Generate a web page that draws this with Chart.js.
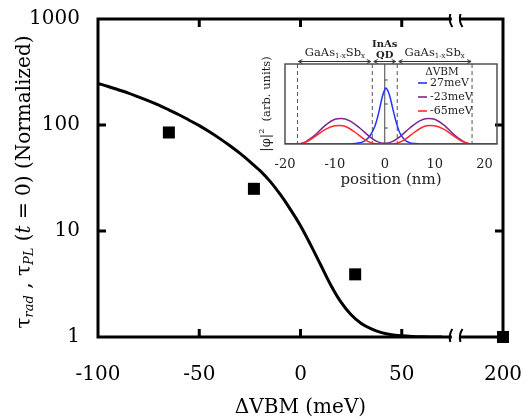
<!DOCTYPE html>
<html lang="en">
<head>
<meta charset="UTF-8">
<title>Radiative lifetime vs ΔVBM</title>
<style>
  * {box-sizing:border-box;margin:0;padding:0;}
  body {background:#fff;width:525px;height:420px;overflow:hidden;}
  .wrap {position:relative;width:525px;height:420px;}
  #mainChart {position:absolute;left:0;top:0;}
  #insetChart {position:absolute;left:250px;top:34px;}
</style>
</head>
<body>
<div class="wrap">
  <canvas id="mainChart" width="525" height="420"></canvas>
  <canvas id="insetChart" width="262" height="160"></canvas>
</div>
<script src="https://cdn.jsdelivr.net/npm/chart.js@4.4.1/dist/chart.umd.min.js"></script>
<script>
// main panel: calculated curve + measured points
const curveMeV = [-100, -95, -90, -85, -80, -75, -70, -65, -60, -55, -50, -45, -40, -35, -30, -25, -20, -15, -10, -5, 0, 5, 10, 15, 20, 25, 30, 35, 40, 45, 50, 55, 60, 70];
const curveTau = [247, 231, 215, 200, 184, 169, 154, 139, 125, 111, 98.6, 86.3, 74.8, 64.0, 54.2, 45.1, 37.1, 29.4, 22.1, 16.0, 11.2, 7.40, 4.78, 3.08, 2.13, 1.62, 1.34, 1.19, 1.10, 1.05, 1.026, 1.012, 1.005, 1.0];
const markMeV = [-65, -23, 27, 200];
const markTau = [85, 25, 3.9, 1];
const xTickMeV = [-100, -50, 0, 50, 200];
const yTickTau = [1, 10, 100, 1000];

// inset: |phi|^2 vs position
const pos27 = [-22.5, -7, -6, -5, -4, -3, -2, -1.5, -1, -0.5, 0, 0.2, 0.5, 1, 1.5, 2, 2.5, 3, 4, 5, 6, 7, 22.5];
const psi27 = [0, 0, 0.005, 0.015, 0.04, 0.1, 0.22, 0.32, 0.45, 0.59, 0.68, 0.7, 0.68, 0.6, 0.47, 0.34, 0.23, 0.14, 0.05, 0.016, 0.005, 0, 0];
const posM23 = [-22.5, -17.5, -16, -14, -12, -10, -8.7, -7, -5, -3, -1.5, 0, 1.5, 3, 5, 7, 8.7, 10, 12, 14, 16, 17.5, 22.5];
const psiM23 = [0, 0, 0.023, 0.11, 0.23, 0.31, 0.32, 0.29, 0.2, 0.09, 0.03, 0.01, 0.03, 0.09, 0.2, 0.29, 0.32, 0.31, 0.23, 0.11, 0.023, 0, 0];
const posM65 = [-22.5, -17.5, -16, -14, -12, -10, -9, -8, -6, -4, -2.5, -1.5, 0, 1.5, 2.5, 4, 6, 8, 9, 10, 12, 14, 16, 17.5, 22.5];
const psiM65 = [0, 0, 0.02, 0.093, 0.18, 0.227, 0.23, 0.222, 0.15, 0.055, 0.01, 0, 0, 0, 0.01, 0.055, 0.15, 0.222, 0.23, 0.227, 0.18, 0.093, 0.02, 0, 0];
const insetXTicks = [-20, -10, 0, 10, 20];
const wellEdges = [-17.5, -2.5, 2.5, 17.5];
const legendLabels = ['27meV', '-23meV', '-65meV'];
const legendColors = ['#2434ff', '#7a2a8f', '#ff2b2b'];

const SERIF = '"DejaVu Serif", serif';
const breakFrom = 74, breakTo = 79;   // axis units where the x axis is cut
function toAxis(v) { return v > 100 ? v - 100 : v; }
function fromAxis(a) { return a > breakFrom ? a + 100 : a; }
function zip(xs, ys) { return xs.map((x, i) => ({x: x, y: ys[i]})); }
function noPad(s) { s.paddingLeft = 0; s.paddingRight = 0; s.paddingTop = 0; s.paddingBottom = 0; }

const frame = {
  id: 'frame',
  beforeDatasetsDraw(chart) {
    const {ctx, chartArea: a, scales: {x, y}} = chart;
    const gL = x.getPixelForValue(breakFrom), gR = x.getPixelForValue(breakTo);
    ctx.save();
    ctx.strokeStyle = '#000';
    ctx.lineWidth = 3;
    ctx.lineCap = 'square';
    ctx.beginPath();
    ctx.moveTo(a.left, a.top); ctx.lineTo(a.left, a.bottom);
    ctx.moveTo(a.right, a.top); ctx.lineTo(a.right, a.bottom);
    [a.top, a.bottom].forEach(yy => {
      ctx.moveTo(a.left, yy); ctx.lineTo(gL, yy);
      ctx.moveTo(gR, yy); ctx.lineTo(a.right, yy);
    });
    ctx.stroke();
    // inward ticks
    ctx.lineCap = 'butt';
    ctx.beginPath();
    x.ticks.forEach(t => {
      const px = x.getPixelForValue(t.value);
      if (px <= a.left + 2 || px >= gL) return;
      ctx.moveTo(px, a.bottom); ctx.lineTo(px, a.bottom - 8);
      ctx.moveTo(px, a.top); ctx.lineTo(px, a.top + 8);
    });
    y.ticks.forEach(t => {
      const py = y.getPixelForValue(t.value);
      if (py <= a.top + 2 || py >= a.bottom - 2) return;
      ctx.moveTo(a.left, py); ctx.lineTo(a.left + 8, py);
      ctx.moveTo(a.right, py); ctx.lineTo(a.right - 8, py);
    });
    ctx.stroke();
    // break marks
    ctx.lineWidth = 2;
    ctx.beginPath();
    [[a.bottom, -1], [a.top, 1]].forEach(([yy, dir]) => {
      [gL, gR].forEach(gx => {
        ctx.moveTo(gx + 2, yy + dir * 8);
        ctx.quadraticCurveTo(gx - 2, yy + dir * 2, gx, yy - dir * 5);
      });
    });
    ctx.stroke();
    ctx.restore();
  }
};

const yTitle = {
  id: 'yTitle',
  afterDraw(chart) {
    const {ctx, chartArea: a} = chart;
    const parts = [
      {t: 'τ', f: '20px ' + SERIF, dy: 0},
      {t: 'rad', f: 'italic 13px ' + SERIF, dy: 5},
      {t: ' , τ', f: '20px ' + SERIF, dy: 0},
      {t: 'PL', f: 'italic 13px ' + SERIF, dy: 5},
      {t: ' (', f: '20px ' + SERIF, dy: 0},
      {t: 't', f: 'italic 20px ' + SERIF, dy: 0},
      {t: ' = 0) (Normalized)', f: '20px ' + SERIF, dy: 0}
    ];
    ctx.save();
    let total = 0;
    parts.forEach(p => { ctx.font = p.f; p.w = ctx.measureText(p.t).width; total += p.w; });
    ctx.translate(25, (a.top + a.bottom) / 2 + 4);
    ctx.rotate(-Math.PI / 2);
    ctx.textBaseline = 'middle';
    ctx.fillStyle = '#000';
    let cx = -total / 2;
    parts.forEach(p => { ctx.font = p.f; ctx.fillText(p.t, cx, p.dy); cx += p.w; });
    ctx.restore();
  }
};

new Chart(document.getElementById('mainChart'), {
  type: 'line',
  data: {
    datasets: [
      {data: zip(curveMeV.map(toAxis), curveTau), borderColor: '#000', borderWidth: 3, pointRadius: 0, cubicInterpolationMode: 'monotone'},
      {data: zip(markMeV.map(toAxis), markTau), showLine: false, pointStyle: 'rect', pointRadius: 8.5, backgroundColor: '#000', borderColor: '#000', borderWidth: 0, clip: false}
    ]
  },
  options: {
    responsive: false, animation: false, devicePixelRatio: 1,
    layout: {padding: {top: 19, right: 22, left: 0, bottom: 0}},
    plugins: {legend: {display: false}, tooltip: {enabled: false}},
    scales: {
      x: {
        type: 'linear', min: -100, max: 100,
        afterBuildTicks: s => { s.ticks = xTickMeV.map(v => ({value: toAxis(v)})); },
        afterFit: s => { s.height = 83; noPad(s); },
        grid: {display: false, drawTicks: false}, border: {display: false},
        ticks: {padding: 26, maxRotation: 0, autoSkip: false, color: '#000', font: {family: SERIF, size: 20}, callback: v => String(fromAxis(v))},
        title: {display: true, text: 'ΔVBM (meV)', color: '#000', font: {family: SERIF, size: 20}, padding: {top: 0, bottom: 0}}
      },
      y: {
        type: 'logarithmic', min: 1, max: 1000,
        afterBuildTicks: s => { s.ticks = yTickTau.map(v => ({value: v})); },
        afterFit: s => { s.width = 98; noPad(s); },
        grid: {display: false, drawTicks: false}, border: {display: false},
        ticks: {padding: 18, autoSkip: false, color: '#000', font: {family: SERIF, size: 20}, callback: v => String(v)}
      }
    }
  },
  plugins: [frame, yTitle]
});

// ---- inset ----
function subText(ctx, pieces, cx, cy) {
  let total = 0;
  pieces.forEach(p => { ctx.font = p.f; p.w = ctx.measureText(p.t).width; total += p.w; });
  let x = cx - total / 2;
  pieces.forEach(p => { ctx.font = p.f; ctx.fillText(p.t, x, cy + p.dy); x += p.w; });
}
function arrow(ctx, x1, x2, y) {
  ctx.beginPath();
  ctx.moveTo(x1, y); ctx.lineTo(x2, y);
  ctx.moveTo(x1 + 4, y - 2); ctx.lineTo(x1, y); ctx.lineTo(x1 + 4, y + 2);
  ctx.moveTo(x2 - 4, y - 2); ctx.lineTo(x2, y); ctx.lineTo(x2 - 4, y + 2);
  ctx.stroke();
}
const arrowSpans = [[-17.3, -2.8], [-2.2, 2.2], [2.8, 17.3]];
const markTicks = [0.2, 0.5, 0.8];

const insetDecor = {
  id: 'insetDecor',
  beforeDatasetsDraw(chart) {
    const {ctx, chartArea: a, scales: {x, y}} = chart;
    ctx.save();
    ctx.strokeStyle = '#555';
    ctx.lineWidth = 1;
    ctx.setLineDash([4, 3]);
    ctx.beginPath();
    wellEdges.forEach(w => { const px = x.getPixelForValue(w); ctx.moveTo(px, a.top); ctx.lineTo(px, a.bottom); });
    ctx.stroke();
    ctx.setLineDash([]);
    const x0 = x.getPixelForValue(0);
    ctx.strokeStyle = '#444';
    ctx.beginPath();
    ctx.moveTo(x0, a.top); ctx.lineTo(x0, a.bottom);
    markTicks.forEach(m => { const py = y.getPixelForValue(m); ctx.moveTo(x0, py); ctx.lineTo(x0 + 3, py); });
    ctx.stroke();
    ctx.restore();
  },
  afterDraw(chart) {
    const {ctx, chartArea: a, scales: {x}} = chart;
    ctx.save();
    ctx.strokeStyle = '#444';
    ctx.lineWidth = 1.4;
    ctx.strokeRect(a.left, a.top, a.right - a.left, a.bottom - a.top);
    // region arrows and labels
    ctx.lineWidth = 1;
    ctx.strokeStyle = '#333';
    arrowSpans.forEach(s => arrow(ctx, x.getPixelForValue(s[0]), x.getPixelForValue(s[1]), a.top - 2.5));
    ctx.fillStyle = '#222';
    ctx.textBaseline = 'middle';
    const gaas = () => [
      {t: 'GaAs', f: '11.5px ' + SERIF, dy: 0},
      {t: '1-x', f: '7px ' + SERIF, dy: 3},
      {t: 'Sb', f: '11.5px ' + SERIF, dy: 0},
      {t: 'x', f: '7px ' + SERIF, dy: 3}
    ];
    subText(ctx, gaas(), x.getPixelForValue(-10), a.top - 11);
    subText(ctx, gaas(), x.getPixelForValue(10), a.top - 11);
    subText(ctx, [{t: 'InAs', f: 'bold 10px ' + SERIF, dy: 0}], x.getPixelForValue(0), a.top - 20);
    subText(ctx, [{t: 'QD', f: 'bold 10px ' + SERIF, dy: 0}], x.getPixelForValue(0), a.top - 9);
    // legend
    ctx.fillStyle = '#222';
    subText(ctx, [{t: 'ΔVBM', f: '10.5px ' + SERIF, dy: 0}], a.right - 55, a.top + 8);
    legendLabels.forEach((lab, i) => {
      const ly = a.top + 19 + i * 14;
      ctx.strokeStyle = legendColors[i];
      ctx.lineWidth = 1.6;
      ctx.beginPath(); ctx.moveTo(a.right - 79, ly); ctx.lineTo(a.right - 70, ly); ctx.stroke();
      ctx.font = '11px ' + SERIF;
      ctx.textAlign = 'left';
      ctx.fillText(lab, a.right - 67, ly);
    });
    // y title
    ctx.translate(a.left - 18, (a.top + a.bottom) / 2);
    ctx.rotate(-Math.PI / 2);
    ctx.textAlign = 'left';
    subText(ctx, [
      {t: '|φ|', f: '13px ' + SERIF, dy: 0},
      {t: '2', f: '8px ' + SERIF, dy: -5},
      {t: '  (arb. units)', f: '11.5px ' + SERIF, dy: 0}
    ], 0, 0);
    ctx.restore();
  }
};

new Chart(document.getElementById('insetChart'), {
  type: 'line',
  data: {
    datasets: [
      {data: zip(posM65, psiM65), borderColor: legendColors[2], borderWidth: 1.5, pointRadius: 0, cubicInterpolationMode: 'monotone'},
      {data: zip(posM23, psiM23), borderColor: legendColors[1], borderWidth: 1.5, pointRadius: 0, cubicInterpolationMode: 'monotone'},
      {data: zip(pos27, psi27), borderColor: legendColors[0], borderWidth: 1.5, pointRadius: 0, cubicInterpolationMode: 'monotone'}
    ]
  },
  options: {
    responsive: false, animation: false, devicePixelRatio: 1,
    layout: {padding: {left: 35, top: 30, right: 15, bottom: 0}},
    plugins: {legend: {display: false}, tooltip: {enabled: false}},
    scales: {
      x: {
        type: 'linear', min: -20, max: 22.5,
        afterBuildTicks: s => { s.ticks = insetXTicks.map(v => ({value: v})); },
        afterFit: s => { s.height = 50; noPad(s); },
        grid: {display: false, drawTicks: false}, border: {display: false},
        ticks: {padding: 13, maxRotation: 0, autoSkip: false, color: '#222', font: {family: SERIF, size: 13}, callback: v => String(v)},
        title: {display: true, text: 'position (nm)', color: '#222', font: {family: SERIF, size: 15}, padding: {top: 0, bottom: 5}}
      },
      y: {display: false, min: 0, max: 1}
    }
  },
  plugins: [insetDecor]
});
</script>
</body>
</html>
